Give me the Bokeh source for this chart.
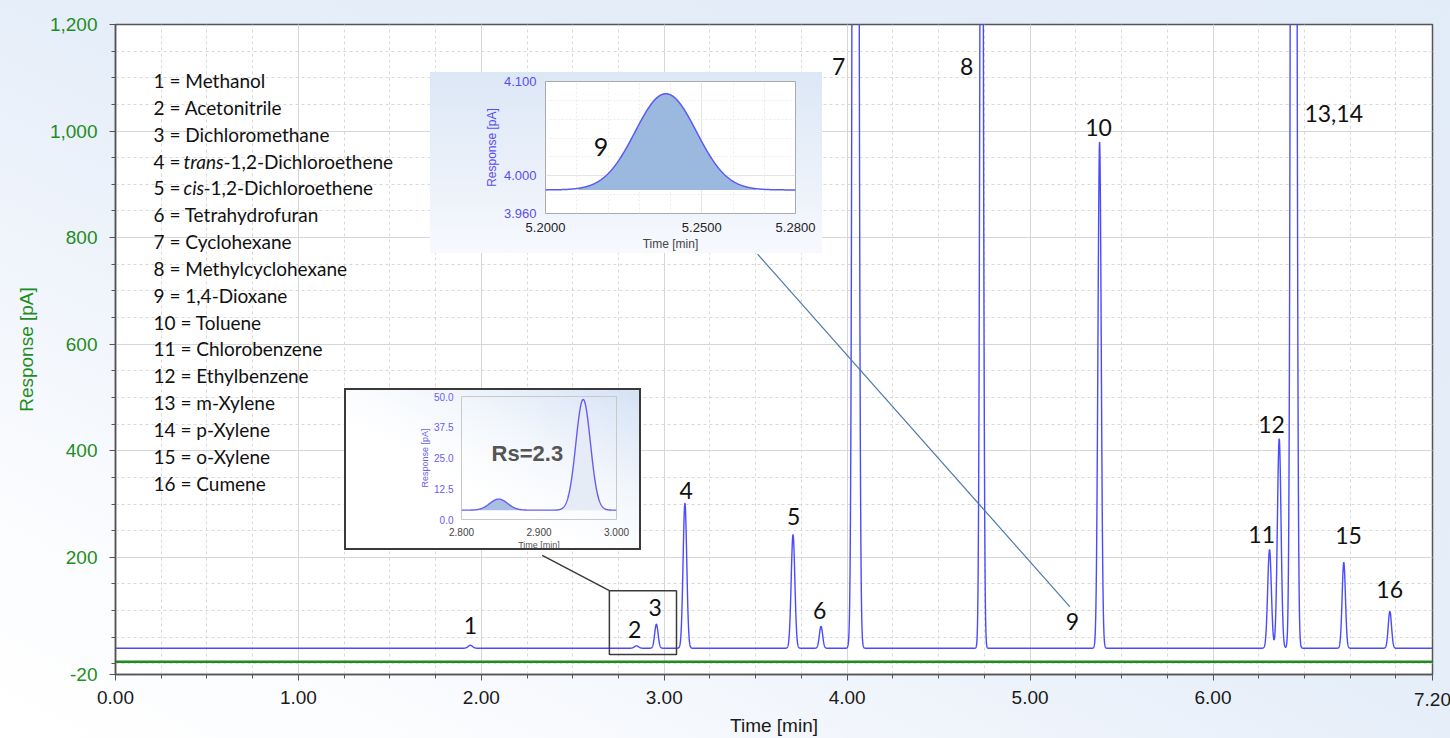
import numpy as np
from bokeh.plotting import figure
from bokeh.models import FixedTicker, NumeralTickFormatter, Range1d, Div
from bokeh.layouts import column
from bokeh.core.properties import value
from bokeh.embed import file_html
from bokeh.resources import INLINE

# ---------------- data ----------------
peak_labels = ["1", "2", "3", "4", "5", "6", "7", "8", "9", "10", "11", "12", "13,14", "15", "16"]
peak_times = [1.940, 2.848, 2.957, 3.113, 3.704, 3.857, 4.046, 4.735, 5.2385, 5.380, 6.309, 6.362, 6.441, 6.715, 6.967]
peak_heights = [5.5, 4.5, 45.0, 272.0, 213.0, 41.0, 6350.0, 2350.0, 0.102, 950.0, 185.0, 393.0, 6200.0, 161.0, 69.0]
peak_sigmas = [0.012, 0.0115, 0.0094, 0.0100, 0.0100, 0.0090, 0.0110, 0.0080, 0.0098, 0.0090, 0.0100, 0.0100, 0.0105, 0.0090, 0.0090]
label_x = [1.94, 2.838, 2.950, 3.120, 3.707, 3.850, 3.953, 4.653, 5.232, 5.374, 6.266, 6.320, 6.660, 6.741, 6.966]
label_y = [72, 64, 106, 325, 276, 100, 1121, 1121, 79, 1007, 242, 450, 1033, 240, 139]

detector_baseline = 3.8      # pA
trace_offset = 25.5          # display offset of the blue trace
blank_level = 4.0            # green trace
inset9_baseline = 3.985      # pA, inset of peak 9

compounds = ["Methanol", "Acetonitrile", "Dichloromethane", "*trans*-1,2-Dichloroethene",
             "*cis*-1,2-Dichloroethene", "Tetrahydrofuran", "Cyclohexane", "Methylcyclohexane",
             "1,4-Dioxane", "Toluene", "Chlorobenzene", "Ethylbenzene", "m-Xylene", "p-Xylene",
             "o-Xylene", "Cumene"]

x_major = [0, 1, 2, 3, 4, 5, 6, 7.2]
y_major = [-20, 200, 400, 600, 800, 1000, 1200]

zoom_box = dict(x0=2.70, x1=3.067, y0=17.5, y1=137.4)
rs_text = "Rs=2.3"

# ---------------- helpers ----------------
def signal(t, idx):
    s = np.zeros_like(t)
    for i in idx:
        s += peak_heights[i] * np.exp(-0.5 * ((t - peak_times[i]) / peak_sigmas[i]) ** 2)
    return s

t = np.linspace(0, 7.2, 14401)
all_idx = [i for i in range(len(peak_labels)) if peak_labels[i] != "9"]
blue = detector_baseline + trace_offset + signal(t, all_idx)
green = np.full_like(t, blank_level)

BLUE = "#4a4aff"
GREEN = "#1f8c1f"
AXC = "#555555"
LATO = value("Lato")

# ---------------- main figure ----------------
p = figure(frame_width=1317, frame_height=651, x_range=Range1d(0, 7.2), y_range=Range1d(-20, 1200),
           output_backend="svg", toolbar_location=None,
           min_border_left=115, min_border_right=18, min_border_top=24, min_border_bottom=63,
           background_fill_color="white", border_fill_color=None)
p.styles = {"background": "linear-gradient(to top right, #ffffff 0%, #fbfcfe 15%, #e6eef9 50%, #e2ebf8 100%)"}
p.outline_line_color = AXC
p.outline_line_width = 1.5

p.xaxis.ticker = FixedTicker(ticks=x_major, minor_ticks=[i * 0.25 for i in range(29)])
p.xaxis.formatter = NumeralTickFormatter(format="0.00")
# the last tick label is written separately (below) so it stays inside the window
p.xaxis.major_label_overrides = {7.2: ""}
p.yaxis.ticker = FixedTicker(ticks=y_major, minor_ticks=[i * 50 for i in range(0, 24)])
p.yaxis.formatter = NumeralTickFormatter(format="0,0")

for ax in (p.xaxis[0], p.yaxis[0]):
    ax.axis_line_color = AXC
    ax.axis_line_width = 1.5
    ax.major_tick_line_color = AXC
    ax.minor_tick_line_color = AXC
    ax.major_tick_in = 0
    ax.major_tick_out = 6
    ax.minor_tick_in = 0
    ax.minor_tick_out = 4
    ax.major_label_text_font = "Liberation Sans"
    ax.major_label_text_font_size = "19px"
    ax.axis_label_text_font = "Liberation Sans"
    ax.axis_label_text_font_size = "19px"
    ax.axis_label_text_font_style = "normal"

p.xaxis.axis_label = "Time [min]"
p.xaxis.major_label_text_color = "#1a1a1a"
p.xaxis.axis_label_text_color = "#1a1a1a"
p.xaxis.major_label_standoff = 10
p.xaxis.axis_label_standoff = 8
p.yaxis.axis_label = "Response [pA]"
p.yaxis.major_label_text_color = GREEN
p.yaxis.axis_label_text_color = GREEN
p.yaxis.major_label_standoff = 12
p.yaxis.axis_label_standoff = 10

for g in (p.xgrid[0], p.ygrid[0]):
    g.grid_line_color = "#d6d6d6"
    g.grid_line_width = 1
    g.minor_grid_line_color = "#d9d9d9"
    g.minor_grid_line_dash = "3 3"

p.line(t, green, line_color=GREEN, line_width=2.5)
p.line(t, blue, line_color=BLUE, line_width=1.4)

# peak labels
p.text(x=label_x, y=label_y, text=peak_labels, text_font=LATO, text_font_size="23px",
       text_align="center", text_baseline="middle", text_color="#111111")

# compound list
FS = "19px"
leg_y = [1095 - 50.4 * i for i in range(len(compounds))]
x0 = 0.2078
plain_x, plain_y, plain_t = [], [], []
for i, name in enumerate(compounds):
    prefix = f"{i + 1} = "
    if name.startswith("*"):
        _, ital, rest = name.split("*")
        p.text(x=[x0], y=[leg_y[i]], text=[prefix], text_font=LATO, text_font_size=FS,
               text_baseline="middle", text_color="#111111")
        p.text(x=[x0], y=[leg_y[i]], text=[ital], x_offset=30, text_font=LATO, text_font_size=FS,
               text_font_style="italic", text_baseline="middle", text_color="#111111")
        off = 30 + (40 if ital == "trans" else 20)
        p.text(x=[x0], y=[leg_y[i]], text=[rest], x_offset=off, text_font=LATO, text_font_size=FS,
               text_baseline="middle", text_color="#111111")
    else:
        plain_x.append(x0)
        plain_y.append(leg_y[i])
        plain_t.append(prefix + name)
p.text(x=plain_x, y=plain_y, text=plain_t, text_font=LATO, text_font_size=FS,
       text_baseline="middle", text_color="#111111")

# zoom box and connectors
p.quad(left=[zoom_box["x0"]], right=[zoom_box["x1"]], bottom=[zoom_box["y0"]], top=[zoom_box["y1"]],
       fill_color=None, line_color="#3a3a3a", line_width=1.5)
p.line([2.333, zoom_box["x0"]], [203.5, zoom_box["y1"]], line_color="#3a3a3a", line_width=1.5)
p.line([3.51, 5.217], [769.0, 107.4], line_color="#4a78aa", line_width=1.2)

last_tick = Div(text=f"{x_major[-1]:.2f}", width=38, height=24,
                styles={"position": "absolute", "left": "1409px", "top": "684px", "width": "38px",
                        "text-align": "left", "font-family": "Liberation Sans", "white-space": "nowrap",
                        "font-size": "19px", "color": "#1a1a1a", "line-height": "22px"})

# ---------------- inset A : peak 9 ----------------
ins_a = figure(width=392, height=181, x_range=Range1d(5.2, 5.28), y_range=Range1d(3.96, 4.10),
               output_backend="svg", toolbar_location=None,
               min_border_left=59, min_border_right=27, min_border_top=9, min_border_bottom=37,
               background_fill_color="white", border_fill_color=None)
ins_a.styles = {"position": "absolute", "left": "430px", "top": "72px",
                "background": "linear-gradient(to bottom, #dce7f6 0%, #eef3fb 70%, #f7f9fd 100%)"}
ins_a.outline_line_color = "#aaaaaa"
ins_a.xaxis.ticker = FixedTicker(ticks=[5.2, 5.25, 5.28], minor_ticks=[5.21, 5.22, 5.23, 5.24, 5.26, 5.27])
ins_a.xaxis.formatter = NumeralTickFormatter(format="0.0000")
ins_a.yaxis.ticker = FixedTicker(ticks=[3.96, 4.0, 4.1], minor_ticks=[3.98, 4.02, 4.04, 4.06, 4.08])
ins_a.yaxis.formatter = NumeralTickFormatter(format="0.000")
for ax in (ins_a.xaxis[0], ins_a.yaxis[0]):
    ax.axis_line_color = None
    ax.major_tick_line_color = None
    ax.minor_tick_line_color = None
    ax.major_label_text_font = "Liberation Sans"
    ax.major_label_text_font_size = "13px"
    ax.axis_label_text_font = "Liberation Sans"
    ax.axis_label_text_font_size = "12px"
    ax.axis_label_text_font_style = "normal"
    ax.major_label_standoff = 3
    ax.axis_label_standoff = 2
ins_a.xaxis.axis_label = "Time [min]"
ins_a.xaxis.major_label_text_color = "#222222"
ins_a.yaxis.axis_label = "Response [pA]"
ins_a.yaxis.major_label_text_color = "#5b4cf2"
ins_a.yaxis.axis_label_text_color = "#5b4cf2"
for g in (ins_a.xgrid[0], ins_a.ygrid[0]):
    g.grid_line_color = "#e4e4e4"
    g.minor_grid_line_color = "#ececec"
    g.minor_grid_line_dash = "2 2"

i9 = peak_labels.index("9")
ta = np.linspace(5.2, 5.28, 801)
ya = inset9_baseline + signal(ta, [i9])
mask = (ta > 5.2105) & (ta < 5.2675)
ins_a.varea(x=ta[mask], y1=np.full(mask.sum(), inset9_baseline), y2=ya[mask], fill_color="#9bb9de")
ins_a.line(ta, ya, line_color="#5a5af0", line_width=1.5)
ins_a.text(x=[5.2178], y=[4.0305], text=["9"], text_font=LATO, text_font_size="25px",
           text_align="center", text_baseline="middle", text_color="#111111")

# ---------------- inset B : peaks 2 and 3 ----------------
ins_b = figure(width=297, height=162, x_range=Range1d(2.8, 3.0), y_range=Range1d(0, 50),
               output_backend="svg", toolbar_location=None,
               min_border_left=34, min_border_right=12, min_border_top=6, min_border_bottom=23,
               background_fill_color="white", background_fill_alpha=0.0, border_fill_color=None)
ins_b.styles = {"position": "absolute", "left": "344px", "top": "388px",
                "border": "2px solid #3a3a3a",
                "background": "linear-gradient(to bottom left, #d5e2f5 0%, #f3f7fc 35%, #ffffff 60%)"}
ins_b.outline_line_color = "#c8c8c8"
ins_b.xaxis.ticker = FixedTicker(ticks=[2.8, 2.9, 3.0])
ins_b.xaxis.formatter = NumeralTickFormatter(format="0.000")
ins_b.yaxis.ticker = FixedTicker(ticks=[0, 12.5, 25, 37.5, 50])
ins_b.yaxis.formatter = NumeralTickFormatter(format="0.0")
for ax in (ins_b.xaxis[0], ins_b.yaxis[0]):
    ax.axis_line_color = None
    ax.major_tick_line_color = None
    ax.minor_tick_line_color = None
    ax.major_label_text_font = "Liberation Sans"
    ax.major_label_text_font_size = "10px"
    ax.axis_label_text_font = "Liberation Sans"
    ax.axis_label_text_font_size = "9px"
    ax.axis_label_text_font_style = "normal"
    ax.major_label_standoff = 2
    ax.axis_label_standoff = 1
ins_b.xaxis.axis_label = "Time [min]"
ins_b.xaxis.major_label_text_color = "#444444"
ins_b.xaxis.axis_label_text_color = "#555555"
ins_b.yaxis.axis_label = "Response [pA]"
ins_b.yaxis.major_label_text_color = "#6a5cf2"
ins_b.yaxis.axis_label_text_color = "#6a5cf2"
ins_b.xgrid.grid_line_color = None
ins_b.ygrid.grid_line_color = None

i2 = peak_labels.index("2")
i3 = peak_labels.index("3")
tb = np.linspace(2.8, 3.0, 801)
yb = detector_baseline + signal(tb, [i2, i3])
m2 = (tb > 2.818) & (tb < 2.878)
m3 = (tb > 2.925) & (tb < 2.995)
ins_b.varea(x=tb[m3], y1=np.full(m3.sum(), detector_baseline), y2=yb[m3], fill_color="#e6ecf5")
ins_b.varea(x=tb[m2], y1=np.full(m2.sum(), detector_baseline), y2=yb[m2], fill_color="#a9bfe2")
ins_b.line(tb, yb, line_color="#6a5cf2", line_width=1.4)
ins_b.text(x=[2.885], y=[27], text=[rs_text], text_font=value("Liberation Sans"), text_font_size="22px",
           text_font_style="bold", text_align="center", text_baseline="middle", text_color="#555555")

layout = column(p, ins_a, ins_b, last_tick,
                styles={"position": "relative", "overflow": "hidden", "width": "1450px", "height": "738px"})

open("out.html", "w").write(file_html(layout, INLINE))
